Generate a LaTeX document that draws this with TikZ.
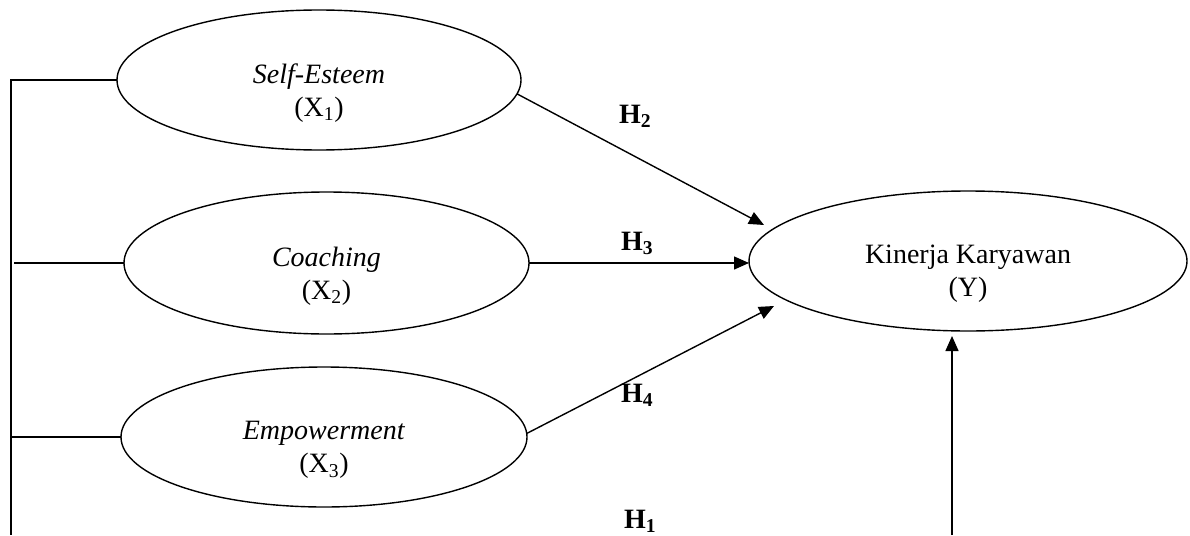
\documentclass[tikz,border=0pt]{standalone}
\usepackage{fontspec}
\setmainfont{Liberation Serif}
\usetikzlibrary{shapes.geometric,arrows.meta}
\tikzset{
  latent/.style={draw, ellipse, line width=1.4pt, inner sep=0pt, outer sep=0pt},
  lbl/.style={align=center, inner sep=0pt, font=\fontsize{28}{33}\selectfont},
  hyp/.style={anchor=base west, inner sep=0pt, font=\fontsize{28}{33}\selectfont\bfseries},
  conn/.style={line width=1.4pt},
  path/.style={line width=1.4pt, -{Triangle[length=15pt,width=13pt]}, shorten >=0pt}
}
\begin{document}
\begin{tikzpicture}[x=1pt,y=-1pt]
\useasboundingbox (0,0) rectangle (1190,535);
% latent variables
\node[latent, minimum width=404pt, minimum height=140pt] (x1) at (319,80) {};
\node[latent, minimum width=405pt, minimum height=142pt] (x2) at (326.5,263) {};
\node[latent, minimum width=406pt, minimum height=140pt] (x3) at (324,437) {};
\node[latent, minimum width=438pt, minimum height=140pt] (y) at (968,261) {};
% texts
\node[lbl] (x1t) at ([yshift=-13pt]x1.center) {\textit{Self-Esteem}\\(X\textsubscript{1})};
\node[lbl] (x2t) at ([yshift=-13pt]x2.center) {\textit{Coaching}\\(X\textsubscript{2})};
\node[lbl] (x3t) at ([yshift=-13pt]x3.center) {\textit{Empowerment}\\(X\textsubscript{3})};
\node[lbl] (yt) at ([yshift=-13pt]y.center) {Kinerja Karyawan\\(Y)};
% free ends
\coordinate (h2tip) at (764,225);
\coordinate (h4tip) at (774,306);
\coordinate (h1start) at (952,535);
\coordinate (h1tip) at (952,336);
\coordinate (lc) at (11,80);
\coordinate (lb) at (11,535);
\coordinate (l2) at (14,263);
% arrows
\draw[path] (x1.-4.9) -- (h2tip);
\draw[path] (x2.east) -- (x2.east -| y.west);
\draw[path] (x3.1.7) -- (h4tip);
\draw[path] (h1start) -- (h1tip);
% left bracket
\draw[conn] (x1.west) -- (lc) -- (lb);
\draw[conn] (l2) -- (x2.west);
\draw[conn] (x3.west -| lc) -- (x3.west);
% hypothesis labels
\node[hyp] (h2) at (619,123) {H\textsubscript{2}};
\node[hyp] (h3) at (621,250) {H\textsubscript{3}};
\node[hyp] (h4) at (621,402) {H\textsubscript{4}};
\node[hyp] (h1) at (624,528) {H\textsubscript{1}};
\end{tikzpicture}
\end{document}
